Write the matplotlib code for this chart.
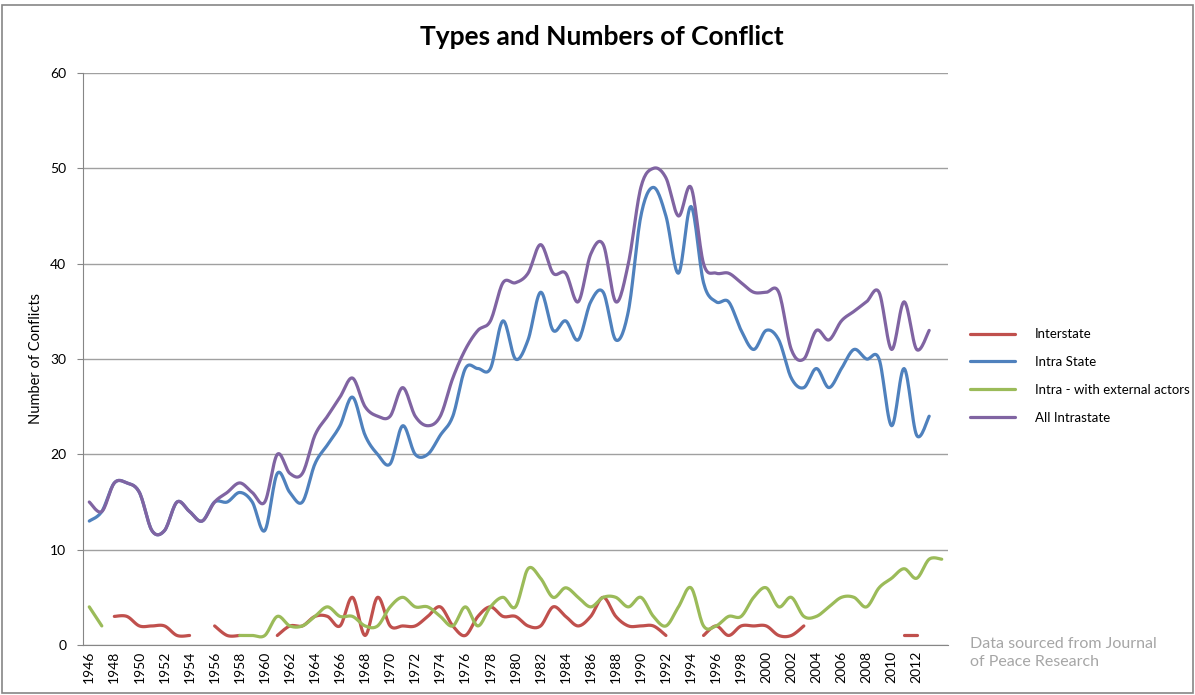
import numpy as np
import matplotlib
matplotlib.use("Agg")
import matplotlib.pyplot as plt
from matplotlib.patches import Rectangle

plt.rcParams['font.family'] = ['Lato', 'DejaVu Sans']

# years 1946..2014 (last category has no tick label)
years = list(range(1946, 2015))
tick_labels = [str(y) for y in range(1946, 2013, 2)]

nan = np.nan
interstate = [nan, nan, 3, 3, 2, 2, 2, 1, 1, nan,
              2, 1, 1, nan, nan, 1, 2, 2, 3, 3,
              2, 5, 1, 5, 2, 2, 2, 3, 4, 2,
              1, 3, 4, 3, 3, 2, 2, 4, 3, 2,
              3, 5, 3, 2, 2, 2, 1, nan, nan, 1,
              2, 1, 2, 2, 2, 1, 1, 2, nan, nan,
              nan, nan, nan, nan, nan, 1, 1, nan, nan]
intra_state = [13, 14, 17, 17, 16, 12, 12, 15, 14, 13,
               15, 15, 16, 15, 12, 18, 16, 15, 19, 21,
               23, 26, 22, 20, 19, 23, 20, 20, 22, 24,
               29, 29, 29, 34, 30, 32, 37, 33, 34, 32,
               36, 37, 32, 35, 45, 48, 45, 39, 46, 38,
               36, 36, 33, 31, 33, 32, 28, 27, 29, 27,
               29, 31, 30, 30, 23, 29, 22, 24, nan]
intra_external = [4, 2, nan, nan, nan, nan, nan, nan, nan, nan,
                  nan, nan, 1, 1, 1, 3, 2, 2, 3, 4,
                  3, 3, 2, 2, 4, 5, 4, 4, 3, 2,
                  4, 2, 4, 5, 4, 8, 7, 5, 6, 5,
                  4, 5, 5, 4, 5, 3, 2, 4, 6, 2,
                  2, 3, 3, 5, 6, 4, 5, 3, 3, 4,
                  5, 5, 4, 6, 7, 8, 7, 9, 9]
all_intrastate = [15, 14, 17, 17, 16, 12, 12, 15, 14, 13,
                  15, 16, 17, 16, 15, 20, 18, 18, 22, 24,
                  26, 28, 25, 24, 24, 27, 24, 23, 24, 28,
                  31, 33, 34, 38, 38, 39, 42, 39, 39, 36,
                  41, 42, 36, 40, 48, 50, 49, 45, 48, 40,
                  39, 39, 38, 37, 37, 37, 31, 30, 33, 32,
                  34, 35, 36, 37, 31, 36, 31, 33, nan]

series = [("Interstate", interstate, "#C0504D"),
          ("Intra State", intra_state, "#4F81BD"),
          ("Intra - with external actors", intra_external, "#9BBB59"),
          ("All Intrastate", all_intrastate, "#8064A2")]


def smooth_runs(x, y, n=16):
    """Excel-style smoothed line: Catmull-Rom Bezier on each run of values."""
    x = np.asarray(x, float)
    y = np.asarray(y, float)
    ok = ~np.isnan(y)
    runs, cur = [], []
    for i in range(len(y)):
        if ok[i]:
            cur.append(i)
        elif cur:
            runs.append(cur)
            cur = []
    if cur:
        runs.append(cur)
    out = []
    t = np.linspace(0, 1, n)[:, None]
    for r in runs:
        p = np.column_stack([x[r], y[r]])
        if len(p) == 1:
            out.append(p)
            continue
        segs = []
        for i in range(len(p) - 1):
            p0 = p[i - 1] if i > 0 else p[i]
            p1, p2 = p[i], p[i + 1]
            p3 = p[i + 2] if i + 2 < len(p) else p[i + 1]
            c1 = p1 + (p2 - p0) / 6
            c2 = p2 - (p3 - p1) / 6
            b = ((1 - t) ** 3) * p1 + 3 * ((1 - t) ** 2) * t * c1 \
                + 3 * (1 - t) * t ** 2 * c2 + t ** 3 * p2
            segs.append(b if i == 0 else b[1:])
        out.append(np.vstack(segs))
    return out


fig = plt.figure(figsize=(11.95, 6.95), dpi=100)
ax = fig.add_axes([83 / 1195, 50 / 695, 865 / 1195, 572 / 695])

xi = np.arange(len(years))
for name, vals, col in series:
    for k, seg in enumerate(smooth_runs(xi, vals)):
        ax.plot(seg[:, 0], seg[:, 1], color=col, lw=2.3,
                solid_capstyle='round', label=name if k == 0 else None)

ax.set_xlim(-0.5, len(years) - 0.5)
ax.set_ylim(0, 60)
ax.set_yticks(range(0, 61, 10))
ax.set_xticks(np.arange(0, 67, 2))
ax.set_xticklabels(tick_labels, rotation=90, fontsize=10)
ax.tick_params(axis='x', length=0, pad=4)
ax.tick_params(axis='y', length=4, color='#868686', labelsize=10, pad=8)
ax.grid(axis='y', color='#A0A0A0', lw=1)
ax.set_axisbelow(True)
for s in ['top', 'right']:
    ax.spines[s].set_visible(False)
for s in ['left', 'bottom']:
    ax.spines[s].set_color('#868686')
ax.set_ylabel("Number of Conflicts", fontsize=10.5, labelpad=5)

fig.text(602 / 1195, 1 - 37 / 695, "Types and Numbers of Conflict",
         ha='center', va='center', fontsize=19, fontweight='bold')

ax.legend(loc='center left', bbox_to_anchor=(970 / 1195, 1 - 376 / 695),
          bbox_transform=fig.transFigure, frameon=False, fontsize=9.5,
          handlelength=3.4, handletextpad=1.5, labelspacing=1.2,
          borderpad=0, borderaxespad=0)

fig.text(970 / 1195, 1 - 653 / 695, "Data sourced from Journal\nof Peace Research",
         ha='left', va='center', fontsize=11.5, color='#A6A6A6', linespacing=1.3)

fig.patches.append(Rectangle((2 / 1195, 2 / 695), 1191 / 1195, 688 / 695,
                             transform=fig.transFigure, fill=False,
                             edgecolor='#868686', lw=1.2))

fig.savefig("out.png", dpi=100)
